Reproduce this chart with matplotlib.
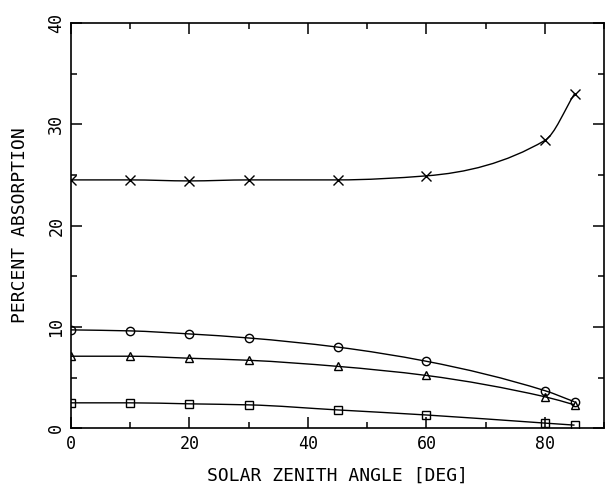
import numpy as np
import matplotlib
matplotlib.use('Agg')
import matplotlib.pyplot as plt
from matplotlib.path import Path
from matplotlib.patches import PathPatch
from matplotlib.ticker import MultipleLocator

# solar zenith angle [deg]
zenith = [0, 10, 20, 30, 45, 60, 80, 85]

# percent absorption
absorp_x = [24.5, 24.5, 24.4, 24.5, 24.5, 24.9, 28.4, 33.0]
absorp_circle = [9.7, 9.6, 9.3, 8.9, 8.0, 6.6, 3.7, 2.6]
absorp_tri = [7.1, 7.1, 6.9, 6.7, 6.1, 5.2, 3.1, 2.3]
absorp_square = [2.5, 2.5, 2.4, 2.3, 1.8, 1.3, 0.5, 0.3]

series = [(absorp_x, 'x'), (absorp_circle, 'o'), (absorp_tri, '^'), (absorp_square, 's')]

plt.rcParams['font.family'] = ['DejaVu Sans Mono']


def smooth_path(x, y):
    # monotone (fritsch-carlson) hermite curve through the points, as bezier segments
    x = np.asarray(x, float)
    y = np.asarray(y, float)
    n = len(x)
    h = np.diff(x)
    dl = np.diff(y) / h
    d = np.zeros(n)
    for i in range(1, n - 1):
        if dl[i - 1] * dl[i] > 0:
            w1 = 2 * h[i] + h[i - 1]
            w2 = h[i] + 2 * h[i - 1]
            d[i] = (w1 + w2) / (w1 / dl[i - 1] + w2 / dl[i])
    d[0] = dl[0]
    d[-1] = dl[-1]
    verts = [(x[0], y[0])]
    codes = [Path.MOVETO]
    for i in range(n - 1):
        verts += [(x[i] + h[i] / 3, y[i] + d[i] * h[i] / 3),
                  (x[i + 1] - h[i] / 3, y[i + 1] - d[i + 1] * h[i] / 3),
                  (x[i + 1], y[i + 1])]
        codes += [Path.CURVE4] * 3
    return Path(verts, codes)


fig = plt.figure(figsize=(6.06, 4.86), dpi=100)
ax = fig.add_axes([0.117, 0.119, 0.88, 0.834])

for vals, mk in series:
    ax.add_patch(PathPatch(smooth_path(zenith, vals), fill=False, color='black', lw=1.0))
    ax.plot(zenith, vals, linestyle='none', marker=mk, ms=7 if mk == 'x' else 6,
            mfc='none', mec='black', mew=1.0)

ax.set_xlim(0, 90)
ax.set_ylim(0, 40)
ax.xaxis.set_major_locator(MultipleLocator(20))
ax.xaxis.set_minor_locator(MultipleLocator(10))
ax.yaxis.set_major_locator(MultipleLocator(10))
ax.yaxis.set_minor_locator(MultipleLocator(5))
ax.tick_params(which='both', direction='in', top=True, right=True, width=1.1)
ax.tick_params(which='major', length=8, labelsize=12, pad=5)
ax.tick_params(which='minor', length=4)
ax.tick_params(axis='y', labelrotation=90, pad=4)
for lab in ax.get_yticklabels():
    lab.set_va('center')
for s in ax.spines.values():
    s.set_linewidth(1.2)

ax.set_xlabel('SOLAR ZENITH ANGLE [DEG]', fontsize=13, va='center')
ax.xaxis.set_label_coords(0.5, -0.118)
ax.set_ylabel('PERCENT ABSORPTION', fontsize=13, va='center')
ax.yaxis.set_label_coords(-0.096, 0.5)

fig.savefig('out.png', dpi=100)
